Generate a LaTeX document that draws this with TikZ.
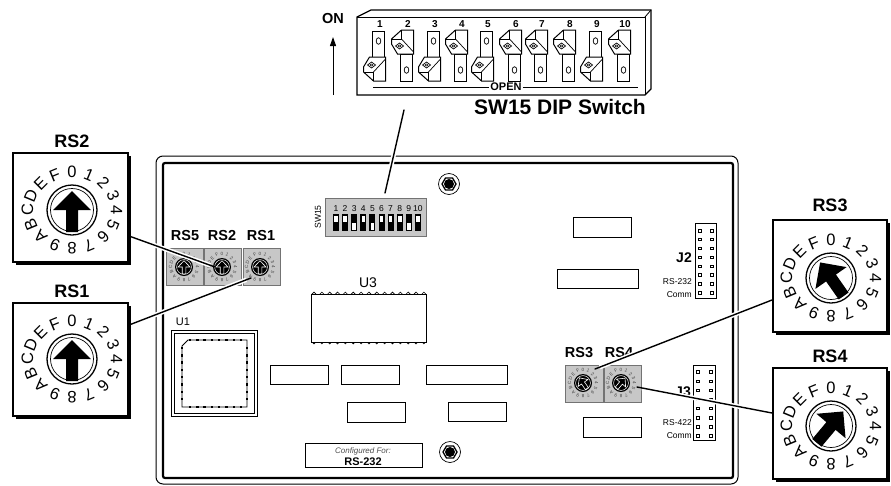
\documentclass[tikz,border=0pt]{standalone}
\usepackage{fontspec}
\setmainfont{Liberation Sans}
\usetikzlibrary{arrows.meta}
\newcommand\myfs[1]{\fontsize{#1}{#1}\selectfont}
% big rotary dial: x, y, rotation, name prefix
\newcommand\bigdial[4]{%
  \foreach \ch [count=\i from 0] in {0,1,2,3,4,5,6,7,8,9,A,B,C,D,E,F}{%
    \pgfmathsetmacro\dang{90-22.5*\i}%
    \node[dialtxt, rotate={\dang-90}] (#4l\i) at ({#1+44.5*cos(\dang)},{#2-38*sin(\dang)}) {\ch};
  }
  \draw[line width=1.3pt] (#1,#2) circle[radius=25];
  \draw[line width=0.7pt] (#1,#2) circle[radius=21.5];
  \begin{scope}[shift={(#1,#2)}, rotate=#3]
    \fill (0,-19) -- (19,0) -- (6,0) -- (6,22) -- (-6,22) -- (-6,0) -- (-19,0) -- cycle;
  \end{scope}}
% small rotary dial on the board
\newcommand\smalldial[4]{%
  \foreach \ch [count=\i from 0] in {0,1,2,3,4,5,6,7,8,9,A,B,C,D,E,F}{%
    \pgfmathsetmacro\dang{90-22.5*\i}%
    \node[smtxt, rotate={\dang-90}] (#4l\i) at ({#1+13.5*cos(\dang)},{#2-13*sin(\dang)}) {\ch};
  }
  \fill (#1,#2) circle[radius=9];
  \draw[white, line width=0.5pt] (#1,#2) circle[radius=7.4];
  \begin{scope}[shift={(#1,#2)}, rotate=#3]
    \draw[white, line width=0.6pt] (0,-6.3) -- (6,0) -- (1.8,0) -- (1.8,6.8) -- (-1.8,6.8) -- (-1.8,0) -- (-6,0) -- cycle;
  \end{scope}}
\newcommand\bigbox[4]{%
  \fill ({#1+3},{#2+3}) rectangle ({#3+3},{#4+3});
  \draw[line width=1.2pt, fill=white] (#1,#2) rectangle (#3,#4);}
\begin{document}
\begin{tikzpicture}[x=1pt,y=-1pt,
  biglbl/.style={font=\bfseries\myfs{18}, inner sep=0},
  smlbl/.style={font=\bfseries\myfs{14.5}, inner sep=0},
  dialtxt/.style={font=\myfs{16.5}, inner sep=0},
  smtxt/.style={font=\myfs{4.6}, inner sep=0, text=black!75},
  comp/.style={draw, line width=0.9pt, fill=white},
  graybox/.style={draw=black!55, line width=0.6pt, fill=black!22},
  conn/.style={line width=1.4pt, line cap=round},
  casing/.style={white, line width=4.5pt, shorten <=5pt, shorten >=5pt},
  pinsq/.style={draw, line width=0.5pt, fill=white},
  tiny/.style={font=\myfs{8.5}, inner sep=0}]
\useasboundingbox (0,0) rectangle (891,485);

% ---------- top DIP switch ----------
\draw[line width=1.2pt, fill=white] (357,17) -- (371,10) -- (651,10) -- (651,89) -- (645,95) -- (357,95) -- cycle;
\draw[line width=1pt] (357,17) -- (645,17) -- (645,95);
\draw[line width=0.8pt] (645,17) -- (651,10);
\foreach \lx/\st [count=\n] in {380/d,408/u,435/d,462/u,488/d,516/u,542/u,570/u,597/d,625/u}{
  \pgfmathsetmacro\c{\lx-2.5}
  \node[font=\bfseries\myfs{10}, inner sep=0] (tn\n) at (\lx,24) {\n};
  \if\st d
    \draw[fill=white, line width=1pt] ({\c-5},31) rectangle ({\c+7},57);
    \draw[line width=0.7pt] ({\c+1},41) ellipse[x radius=2.3, y radius=3.3];
    \draw[fill=white, line width=1pt] ({\c-8},57) -- ({\c+8},57) -- ({\c+8},81) -- ({\c-4},81) -- ({\c-14},72) -- ({\c-14},67) -- cycle;
    \draw[line width=0.7pt] ({\c+8},59) -- ({\c-4},72) -- ({\c-4},81);
    \draw[line width=0.7pt] ({\c-4},72) -- ({\c-14},72);
    \draw[line width=0.7pt] ({\c-10},65) -- ({\c-6},62) -- ({\c-2},65) -- ({\c-6},68) -- cycle;
    \draw[line width=0.5pt] ({\c-6},65) ellipse[x radius=1.6, y radius=1];
  \else
    \draw[fill=white, line width=1pt] ({\c-5},54) rectangle ({\c+7},81);
    \draw[line width=0.7pt] ({\c+1},70) ellipse[x radius=2.3, y radius=3.3];
    \draw[fill=white, line width=1pt] ({\c-8},54) -- ({\c+8},54) -- ({\c+8},30) -- ({\c-4},30) -- ({\c-14},39) -- ({\c-14},44) -- cycle;
    \draw[line width=0.7pt] ({\c+8},52) -- ({\c-4},39) -- ({\c-4},30);
    \draw[line width=0.7pt] ({\c-4},39) -- ({\c-14},39);
    \draw[line width=0.7pt] ({\c-10},46) -- ({\c-6},43) -- ({\c-2},46) -- ({\c-6},49) -- cycle;
    \draw[line width=0.5pt] ({\c-6},46) ellipse[x radius=1.6, y radius=1];
  \fi
}
\node[font=\bfseries\myfs{11}, inner sep=1pt] (open) at (506,87) {OPEN};
\draw[line width=0.8pt] (373,87) -- (open.west);
\draw[line width=0.8pt] (open.east) -- (638,87);
\node[font=\bfseries\myfs{14.5}, inner sep=0] (on) at (333,19) {ON};
\coordinate (onB) at (333,95);
\coordinate (onT) at (333,37);
\draw[line width=1pt, -{Triangle[length=9pt,width=6pt]}] (onB) -- (onT);
\node[font=\bfseries\myfs{21}, inner sep=0] (swlbl) at (560,107) {SW15 DIP Switch};

% ---------- board ----------
\draw[line width=1pt, rounded corners=7] (156,156) rectangle (738,484);
\draw[line width=2.2pt, rounded corners=2] (163,163) rectangle (733,478);

% mounting holes
\foreach \hx/\hy [count=\k] in {449/184,450/452}{
  \draw[line width=0.7pt, fill=white] (\hx,\hy) circle[radius=10.5];
  \draw[line width=1.3pt] (\hx,\hy) +(0:7) -- +(60:7) -- +(120:7) -- +(180:7) -- +(240:7) -- +(300:7) -- cycle;
  \fill (\hx,\hy) circle[radius=5];
}

% board DIP switch
\draw[graybox] (325,198) rectangle (426,236);
\node[font=\myfs{8.6}, inner sep=0, rotate=90] (sw15) at (318,217) {SW15};
\foreach \i/\st in {1/u,2/u,3/d,4/u,5/d,6/u,7/u,8/u,9/d,10/u}{
  \pgfmathsetmacro\xx{336+9.1*(\i-1)}
  \node[font=\myfs{8.5}, inner sep=0] (dn\i) at (\xx,208.5) {\i};
  \fill ({\xx-3},214) rectangle ({\xx+3},231);
  \if\st u
    \fill[white] ({\xx-1.8},215.5) rectangle ({\xx+1.8},222);
  \else
    \fill[white] ({\xx-1.8},223) rectangle ({\xx+1.8},229.5);
  \fi
}

% small rotary switches RS5 RS2 RS1
\draw[graybox] (166,248) rectangle (203,285);
\draw[graybox] (204,248) rectangle (241,285);
\draw[graybox] (243,248) rectangle (280,285);
\smalldial{184}{267}{0}{s5}
\smalldial{222}{267}{0}{s2}
\smalldial{260}{267}{0}{s1}
\node[smlbl] (lrs5) at (185,236) {RS5};
\node[smlbl] (lrs2) at (222,236) {RS2};
\node[smlbl] (lrs1) at (261,236) {RS1};

% small rotary switches RS3 RS4
\draw[graybox] (565,365) rectangle (603,402);
\draw[graybox] (604,365) rectangle (641,402);
\smalldial{583}{383}{35}{s3}
\smalldial{621}{383}{-40}{s4}
\node[smlbl] (lrs3) at (579,353) {RS3};
\node[smlbl] (lrs4) at (619,353) {RS4};

% U3
\node[font=\myfs{14}, inner sep=0] (u3) at (368,283) {U3};
\foreach \k in {0,...,14}{
  \pgfmathsetmacro\px{314+7.85*\k}
  \draw[fill=white, line width=0.6pt] (\px,294) circle[radius=1.9];
  \draw[fill=white, line width=0.6pt] (\px,342) circle[radius=1.9];
}
\draw[comp] (311,294) rectangle (426,342);

% U1
\node[font=\myfs{11}, inner sep=0] (u1) at (183,322) {U1};
\draw[line width=0.8pt, fill=white] (171,330) rectangle (257,416);
\draw[line width=0.5pt] (174,333) rectangle (254,413);
\draw[line width=0.8pt] (188,340) -- (247,340) -- (247,407) -- (182,407) -- (182,346) -- cycle;
\foreach \k in {0,...,7}{
  \pgfmathsetmacro\pa{190+7.3*\k}
  \pgfmathsetmacro\pb{348+7.3*\k}
  \fill ({\pa-1.2},338.8) rectangle ({\pa+1.2},341.2);
  \fill ({\pa-1.2},405.8) rectangle ({\pa+1.2},408.2);
  \fill (180.8,{\pb-1.2}) rectangle (183.2,{\pb+1.2});
  \fill (245.8,{\pb-1.2}) rectangle (248.2,{\pb+1.2});
}

% plain components
\draw[comp] (573,217) rectangle (631,237);
\draw[comp] (557,269) rectangle (638,288);
\draw[comp] (270,365) rectangle (328,384);
\draw[comp] (341,365) rectangle (399,384);
\draw[comp] (426,365) rectangle (507,384);
\draw[comp] (347,402) rectangle (405,422);
\draw[comp] (448,402) rectangle (506,421);
\draw[comp] (583,417) rectangle (641,437);

% configured label
\draw[line width=0.8pt] (305,443) rectangle (422,467);
\node[font=\itshape\myfs{8}, text=black!70, inner sep=0] (cfg) at (363,451) {Configured For:};
\node[font=\bfseries\myfs{11}, inner sep=0] (cfg2) at (363,461.5) {RS-232};

% J2
\draw[line width=0.8pt, fill=white] (695,223) rectangle (716,298);
\foreach \r in {0,...,7}{
  \pgfmathsetmacro\py{230.5+8.9*\r}
  \draw[pinsq] (698.2,{\py-1.3}) rectangle (700.8,{\py+1.3});
  \draw[pinsq] (710.7,{\py-1.3}) rectangle (713.3,{\py+1.3});
}
\node[font=\bfseries\myfs{14}, inner sep=0] (j2) at (684,258) {J2};
\node[tiny, anchor=east] (j2a) at (692,282) {RS-232};
\node[tiny, anchor=east] (j2b) at (692,294.5) {Comm};

% J3
\draw[line width=0.8pt, fill=white] (693,365) rectangle (715,440);
\foreach \r in {0,...,7}{
  \pgfmathsetmacro\py{372+9.1*\r}
  \draw[pinsq] (696.2,{\py-1.3}) rectangle (698.8,{\py+1.3});
  \draw[pinsq] (709.7,{\py-1.3}) rectangle (712.3,{\py+1.3});
}
\node[font=\bfseries\myfs{14}, inner sep=0] (j3) at (683,392) {J3};
\node[tiny, anchor=east] (j3a) at (692,423) {RS-422};
\node[tiny, anchor=east] (j3b) at (692,436) {Comm};

% ---------- connectors ----------
\coordinate (dipA) at (404,110);
\coordinate (dipB) at (385,193);
\coordinate (rs2big) at (129,236);
\coordinate (rs2sm) at (215,267);
\coordinate (rs1big) at (129,325);
\coordinate (rs1sm) at (251,278);
\coordinate (rs3big) at (772,300);
\coordinate (rs3sm) at (595,369);
\coordinate (rs4big) at (772,413);
\coordinate (rs4sm) at (637,387);
\foreach \a/\b in {dipA/dipB,rs2big/rs2sm,rs1big/rs1sm,rs3big/rs3sm,rs4big/rs4sm}{
  \draw[casing] (\a) -- (\b);
  \draw[conn] (\a) -- (\b);
}

% ---------- enlarged dials ----------
\bigbox{13}{153}{128}{262}
\bigdial{72}{210}{0}{b2}
\node[biglbl] (RS2) at (72,141) {RS2};

\bigbox{13}{303}{128}{416}
\bigdial{72}{359}{0}{b1}
\node[biglbl] (RS1) at (72,291) {RS1};

\bigbox{773}{220}{887}{332}
\bigdial{831}{278}{35}{b3}
\node[biglbl] (RS3) at (830,205) {RS3};

\bigbox{773}{368}{887}{479}
\bigdial{831}{426}{-40}{b4}
\node[biglbl] (RS4) at (830,356) {RS4};
\end{tikzpicture}
\end{document}
